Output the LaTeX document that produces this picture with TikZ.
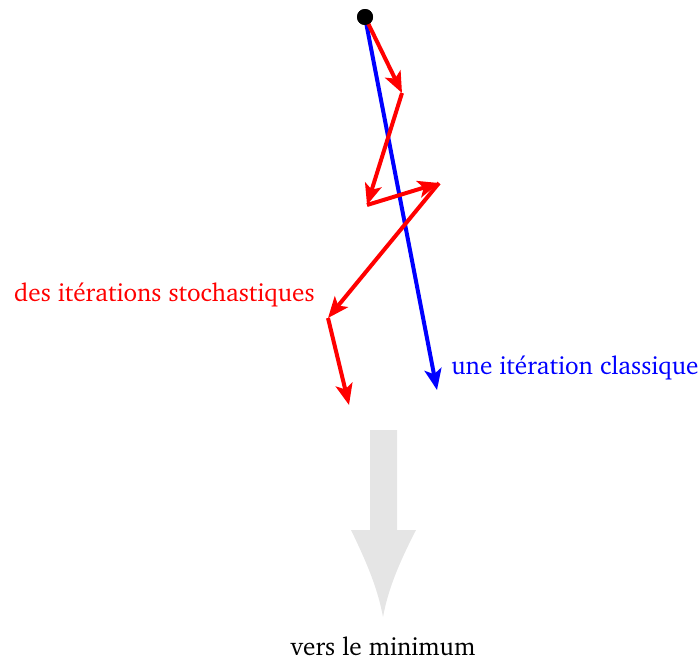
\documentclass[tikz,border=0pt]{standalone}
\usepackage[T1]{fontenc}
\usepackage{charter}
\usepackage{tikz}
\usetikzlibrary{arrows.meta, positioning}

\begin{document}
\begin{tikzpicture}[x=0.5pt, y=-0.5pt,
        pas/.style={-{Stealth[length=10.5pt, width=8.5pt, inset=2.5pt]}, line width=2pt},
        lbl/.style={font=\fontsize{12.6}{15}\selectfont, inner sep=1pt}
      ]
      \useasboundingbox (0,0) rectangle (700,659);

      % points de la descente
      \node[circle, fill=black, inner sep=0pt, minimum size=8pt] (x0) at (365,17) {};
      \coordinate (x1) at (402,93);
      \coordinate (x2) at (367,205);
      \coordinate (x3) at (439,183);
      \coordinate (x4) at (328,318);
      \coordinate (x5) at (349,405);
      \coordinate (xc) at (437,390);

      \draw[pas, blue] (x0.center) -- (xc);
      \draw[pas, red] (x0.center) -- (x1);
      \draw[pas, red] (x1) -- (x2);
      \draw[pas, red] (x2) -- (x3);
      \draw[pas, red] (x3) -- (x4);
      \draw[pas, red] (x4) -- (x5);
      \fill (x0) circle (4pt);

      \node[lbl, red, anchor=east] (stoch) at (317,295) {des itérations stochastiques};
      \node[lbl, blue, anchor=west] (classic) at (449,368) {une itération classique};

      % grosse fleche
      \fill[gray!20] (370,430) -- (397,430) -- (397,530) -- (416,530)
        .. controls (398,565) and (388,590) .. (383,617)
        .. controls (378,590) and (368,565) .. (351,530)
        -- (370,530) -- cycle;
      \node[lbl] (minimum) at (383,646) {vers le minimum};
    \end{tikzpicture}
\end{document}
